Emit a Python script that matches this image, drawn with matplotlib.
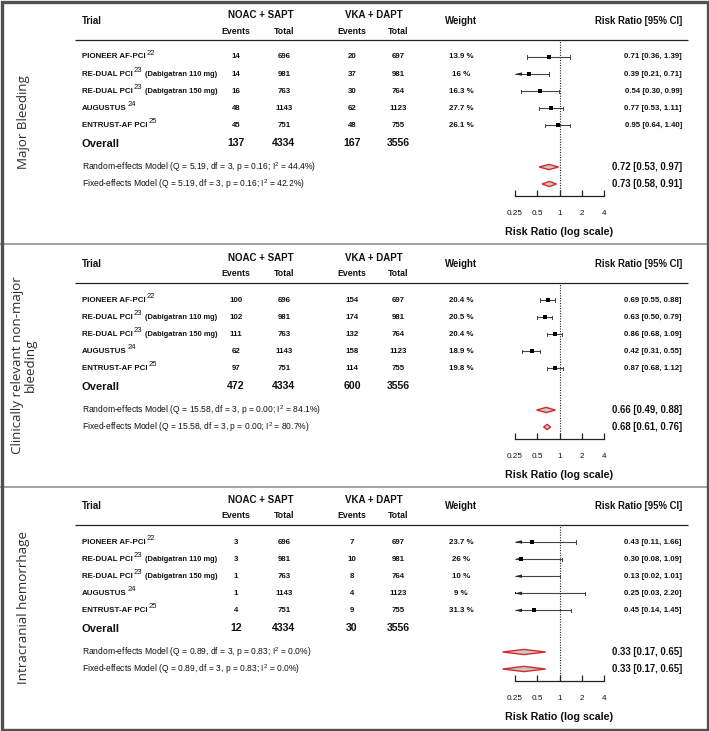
import matplotlib
matplotlib.use("Agg")
import matplotlib.pyplot as plt
from matplotlib.patches import Polygon, Rectangle
from matplotlib.ticker import NullLocator, FixedLocator, FixedFormatter

plt.rcParams['font.family'] = ['Liberation Sans', 'DejaVu Sans']
plt.rcParams['mathtext.fontset'] = 'custom'
plt.rcParams['mathtext.rm'] = 'Liberation Sans'
plt.rcParams['mathtext.it'] = 'Liberation Sans:italic'
plt.rcParams['mathtext.bf'] = 'Liberation Sans:bold'

# ---------------- data ----------------
outcomes = ["Major Bleeding", "Clinically relevant non-major\nbleeding", "Intracranial hemorrhage"]
trials = ["PIONEER AF-PCI", "RE-DUAL PCI", "RE-DUAL PCI", "AUGUSTUS", "ENTRUST-AF PCI"]
trial_refs = ["22", "23", "23", "24", "25"]
trial_notes = ["", "(Dabigatran 110 mg)", "(Dabigatran 150 mg)", "", ""]
noac_total = [696, 981, 763, 1143, 751]
vka_total = [697, 981, 764, 1123, 755]

major_noac_events = [14, 14, 16, 48, 45]
major_vka_events = [20, 37, 30, 62, 48]
major_weight = [13.9, 16, 16.3, 27.7, 26.1]
major_rr = [0.71, 0.39, 0.54, 0.77, 0.95]
major_lo = [0.36, 0.21, 0.30, 0.53, 0.64]
major_hi = [1.39, 0.71, 0.99, 1.11, 1.40]
major_overall = [137, 4334, 167, 3556]
major_random = [0.72, 0.53, 0.97]
major_fixed = [0.73, 0.58, 0.91]
major_het_random = [5.19, 3, 0.16, 44.4]
major_het_fixed = [5.19, 3, 0.16, 42.2]

crnm_noac_events = [100, 102, 111, 62, 97]
crnm_vka_events = [154, 174, 132, 158, 114]
crnm_weight = [20.4, 20.5, 20.4, 18.9, 19.8]
crnm_rr = [0.69, 0.63, 0.86, 0.42, 0.87]
crnm_lo = [0.55, 0.50, 0.68, 0.31, 0.68]
crnm_hi = [0.88, 0.79, 1.09, 0.55, 1.12]
crnm_overall = [472, 4334, 600, 3556]
crnm_random = [0.66, 0.49, 0.88]
crnm_fixed = [0.68, 0.61, 0.76]
crnm_het_random = [15.58, 3, 0.00, 84.1]
crnm_het_fixed = [15.58, 3, 0.00, 80.7]

ich_noac_events = [3, 3, 1, 1, 4]
ich_vka_events = [7, 10, 8, 4, 9]
ich_weight = [23.7, 26, 10, 9, 31.3]
ich_rr = [0.43, 0.30, 0.13, 0.25, 0.45]
ich_lo = [0.11, 0.08, 0.02, 0.03, 0.14]
ich_hi = [1.66, 1.09, 1.01, 2.20, 1.45]
ich_overall = [12, 4334, 30, 3556]
ich_random = [0.33, 0.17, 0.65]
ich_fixed = [0.33, 0.17, 0.65]
ich_het_random = [0.89, 3, 0.83, 0.0]
ich_het_fixed = [0.89, 3, 0.83, 0.0]

axis_ticks = [0.25, 0.5, 1, 2, 4]
axis_ticklabels = ["0.25", "0.5", "1", "2", "4"]

panels = [
    dict(ne=major_noac_events, ve=major_vka_events, w=major_weight, rr=major_rr, lo=major_lo, hi=major_hi,
         ov=major_overall, rand=major_random, fix=major_fixed, hr=major_het_random, hf=major_het_fixed),
    dict(ne=crnm_noac_events, ve=crnm_vka_events, w=crnm_weight, rr=crnm_rr, lo=crnm_lo, hi=crnm_hi,
         ov=crnm_overall, rand=crnm_random, fix=crnm_fixed, hr=crnm_het_random, hf=crnm_het_fixed),
    dict(ne=ich_noac_events, ve=ich_vka_events, w=ich_weight, rr=ich_rr, lo=ich_lo, hi=ich_hi,
         ov=ich_overall, rand=ich_random, fix=ich_fixed, hr=ich_het_random, hf=ich_het_fixed),
]

# ---------------- layout ----------------
W, H = 709, 731
fig = plt.figure(figsize=(W / 100, H / 100), dpi=100)
bg = fig.add_axes([0, 0, 1, 1])
bg.set_xlim(0, W)
bg.set_ylim(H, 0)
bg.axis('off')
renderer = fig.canvas.get_renderer()

TOPS = [0, 243, 485]
X_NAME, X_NE, X_NT, X_VE, X_VT, X_W, X_RR = 82, 236, 284, 352, 398, 461, 682
X_NOAC, X_VKA = 261, 374
Y_GRP, Y_SUB, Y_MAIN, Y_LINE = 15, 31, 21, 40
Y_ROW0, Y_STEP, Y_OV, Y_RAND, Y_FIX, Y_AX = 57, 17.1, 144, 167, 184, 196
AX_X0, AX_X1 = 515, 604
PX_PER_DOUBLING = (AX_X1 - AX_X0) / 4.0

TXT = '#111111'
FS_ROW = 5.7
FS_HDR = 6.9


def px_to_data_x(px):
    return bg.transData.inverted().transform((px, 0))[0]


for p, (T, d) in enumerate(zip(TOPS, panels)):
    # vertical outcome label
    bg.text(24, T + 122, outcomes[p], rotation=90, ha='center', va='center', fontsize=9.6,
            family=['Open Sans', 'DejaVu Sans'], color='#2e2e2e', multialignment='center', linespacing=1.0)
    # headers
    bg.text(X_NAME, T + Y_MAIN, "Trial", ha='left', va='center', fontsize=FS_HDR, fontweight='bold', color=TXT)
    bg.text(X_NOAC, T + Y_GRP, "NOAC + SAPT", ha='center', va='center', fontsize=7.0, fontweight='bold', color=TXT)
    bg.text(X_VKA, T + Y_GRP, "VKA + DAPT", ha='center', va='center', fontsize=7.0, fontweight='bold', color=TXT)
    for xc, lab in [(X_NE, "Events"), (X_NT, "Total"), (X_VE, "Events"), (X_VT, "Total")]:
        bg.text(xc, T + Y_SUB, lab, ha='center', va='center', fontsize=6.3, fontweight='bold', color=TXT)
    bg.text(X_W, T + Y_MAIN, "Weight", ha='center', va='center', fontsize=FS_HDR, fontweight='bold', color=TXT)
    bg.text(X_RR, T + Y_MAIN, "Risk Ratio [95% CI]", ha='right', va='center', fontsize=FS_HDR,
            fontweight='bold', color=TXT)
    bg.plot([75, 688], [T + Y_LINE, T + Y_LINE], color='#222222', lw=0.9, solid_capstyle='butt')

    # study rows
    for i in range(len(trials)):
        y = T + Y_ROW0 + Y_STEP * i
        t = bg.text(X_NAME, y, trials[i], ha='left', va='center', fontsize=FS_ROW, fontweight='bold', color=TXT)
        bb = t.get_window_extent(renderer)
        xs = px_to_data_x(bb.x1) + 1.0
        s = bg.text(xs, y - 3.6, trial_refs[i], ha='left', va='center', fontsize=5.5, color=TXT)
        if trial_notes[i]:
            bb2 = s.get_window_extent(renderer)
            xn = px_to_data_x(bb2.x1) + 2.5
            bg.text(xn, y, trial_notes[i], ha='left', va='center', fontsize=5.4, fontweight='bold', color=TXT)
        bg.text(X_NE, y, str(d['ne'][i]), ha='center', va='center', fontsize=FS_ROW, fontweight='bold', color=TXT)
        bg.text(X_NT, y, str(noac_total[i]), ha='center', va='center', fontsize=FS_ROW, fontweight='bold', color=TXT)
        bg.text(X_VE, y, str(d['ve'][i]), ha='center', va='center', fontsize=FS_ROW, fontweight='bold', color=TXT)
        bg.text(X_VT, y, str(vka_total[i]), ha='center', va='center', fontsize=FS_ROW, fontweight='bold', color=TXT)
        bg.text(X_W, y, f"{d['w'][i]:g} %", ha='center', va='center', fontsize=FS_ROW, fontweight='bold', color=TXT)
        bg.text(X_RR, y, f"{d['rr'][i]:.2f} [{d['lo'][i]:.2f}, {d['hi'][i]:.2f}]", ha='right', va='center',
                fontsize=FS_ROW, fontweight='bold', color=TXT)

    # overall row
    yo = T + Y_OV
    bg.text(X_NAME, yo, "Overall", ha='left', va='center', fontsize=8.0, fontweight='bold', color=TXT)
    for xc, v in zip([X_NE, X_NT, X_VE, X_VT], d['ov']):
        bg.text(xc, yo - 1, str(v), ha='center', va='center', fontsize=7.6, fontweight='bold', color=TXT)

    # model rows
    for ym, name, het, est in [(Y_RAND, "Random-effects Model", d['hr'], d['rand']),
                               (Y_FIX, "Fixed-effects Model", d['hf'], d['fix'])]:
        q, df, pv, i2 = het
        bg.text(X_NAME, T + ym, f"{name} (Q = {q:.2f}, df = {df}, p = {pv:.2f}; I$^2$ = {i2:.1f}%)",
                ha='left', va='center', fontsize=6.15, color=TXT)
        bg.text(X_RR, T + ym, f"{est[0]:.2f} [{est[1]:.2f}, {est[2]:.2f}]", ha='right', va='center',
                fontsize=6.9, fontweight='bold', color=TXT)

    # forest axes
    fx = fig.add_axes([AX_X0 / W, 1 - (T + Y_AX) / H, (AX_X1 - AX_X0) / W, (Y_AX - Y_LINE) / H])
    fx.set_xscale('log', base=2)
    fx.set_xlim(axis_ticks[0], axis_ticks[-1])
    fx.set_ylim(T + Y_AX, T + Y_LINE)
    fx.patch.set_alpha(0)
    for sp in ['top', 'left', 'right']:
        fx.spines[sp].set_visible(False)
    fx.spines['bottom'].set_linewidth(0.9)
    fx.spines['bottom'].set_color('#222222')
    fx.set_yticks([])
    fx.xaxis.set_major_locator(FixedLocator(axis_ticks))
    fx.xaxis.set_major_formatter(FixedFormatter(axis_ticklabels))
    fx.xaxis.set_minor_locator(NullLocator())
    fx.tick_params(axis='x', direction='in', length=4.2, width=0.9, pad=10, labelsize=5.9,
                   color='#222222', labelcolor=TXT)
    fx.set_xlabel("Risk Ratio (log scale)", fontsize=7.7, fontweight='bold', labelpad=7, color=TXT)
    fx.axvline(1, color='#222222', lw=0.8, ls=(0, (1, 1.3)), zorder=1)

    xmin, xmax = axis_ticks[0], axis_ticks[-1]
    arrow_k = 2 ** (7 / PX_PER_DOUBLING)
    for i in range(len(trials)):
        y = T + Y_ROW0 + Y_STEP * i
        lo, hi, rr = d['lo'][i], d['hi'][i], d['rr'][i]
        lo_c, hi_c = max(lo, xmin), min(hi, xmax)
        fx.plot([lo_c, hi_c], [y, y], color='#444444', lw=0.8, solid_capstyle='butt', zorder=2)
        if lo >= xmin:
            fx.plot([lo, lo], [y - 1.6, y + 1.6], color='#444444', lw=0.7, zorder=2)
        else:
            fx.add_patch(Polygon([(xmin, y), (xmin * arrow_k, y - 1.7), (xmin * arrow_k, y + 1.7)],
                                 closed=True, color='#222222', lw=0, zorder=3))
        if hi <= xmax:
            fx.plot([hi, hi], [y - 1.6, y + 1.6], color='#444444', lw=0.7, zorder=2)
        fx.plot([rr], [y], marker='s', ms=1.6 + 0.055 * d['w'][i], color='black', mew=0, zorder=4)

    for ym, est in [(Y_RAND, d['rand']), (Y_FIX, d['fix'])]:
        yc = T + ym
        fx.add_patch(Polygon([(est[1], yc), (est[0], yc - 2.6), (est[2], yc), (est[0], yc + 2.6)],
                             closed=True, facecolor='#c8c8c8', edgecolor='#d42a2a', lw=1.0,
                             clip_on=False, zorder=3))

# separators and border
for ys in [243.5, 487]:
    bg.plot([0, W], [ys, ys], color='#8a8a8a', lw=1.1, zorder=5)
bg.add_patch(Rectangle((1.5, 1.5), W - 3, H - 3, fill=False, edgecolor='#505050', lw=2.4, zorder=6))

fig.savefig("out.png", dpi=100)
